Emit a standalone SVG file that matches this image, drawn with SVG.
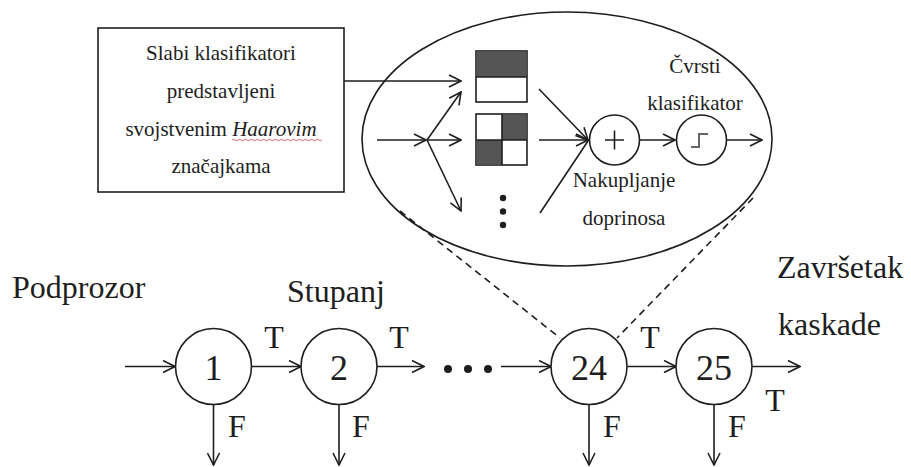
<svg xmlns="http://www.w3.org/2000/svg" width="911" height="467" viewBox="0 0 911 467" font-family="Liberation Serif, DejaVu Serif, serif">
<defs>
<style>
.ln{fill:none;stroke:#1e1e1e;stroke-width:1.6}
.arr{fill:none;stroke:#1e1e1e;stroke-width:1.6;marker-end:url(#ah)}
.dash{fill:none;stroke:#1e1e1e;stroke-width:1.6;stroke-dasharray:7 5}
.node{fill:#fff;stroke:#1e1e1e;stroke-width:1.6}
text{font-family:'Liberation Serif','DejaVu Serif',serif;fill:#1e1e1e}
.s{font-size:21px}
.b{font-size:32px}
.n{font-size:36px}
.dark{fill:#555;stroke:none}
</style>
<marker id="ah" viewBox="0 0 14 14" refX="13" refY="7" markerWidth="14" markerHeight="14" markerUnits="userSpaceOnUse" orient="auto">
<path d="M1,1 L13,7 L1,13" fill="none" stroke="#1e1e1e" stroke-width="1.6"/>
</marker>
</defs>
<rect width="911" height="467" fill="#fff"/>

<g id="zoom-ellipse">
<ellipse cx="567" cy="139" rx="205" ry="127" fill="none" stroke="#1e1e1e" stroke-width="1.6"/>
</g>

<g id="connectors">
<line class="arr" x1="344" y1="81" x2="461" y2="81"/>
<line class="arr" x1="377" y1="140" x2="426" y2="140"/>
<line class="arr" x1="427" y1="140" x2="461" y2="92"/>
<line class="arr" x1="427" y1="140" x2="461" y2="140"/>
<line class="arr" x1="427" y1="140" x2="461" y2="211"/>
<line class="arr" x1="539" y1="89" x2="588" y2="140"/>
<line class="arr" x1="539" y1="140" x2="588" y2="140"/>
<line class="ln" x1="540" y1="213" x2="588" y2="141"/>
<line class="arr" x1="640" y1="140" x2="675" y2="140"/>
<line class="arr" x1="727" y1="140" x2="762" y2="140"/>
<line class="dash" x1="400" y1="211" x2="560" y2="338"/>
<line class="dash" x1="753" y1="198" x2="617" y2="338"/>
<line class="arr" x1="125" y1="366.5" x2="175" y2="366.5"/>
<line class="arr" x1="251" y1="366.5" x2="301" y2="366.5"/>
<line class="arr" x1="377" y1="366.5" x2="424" y2="366.5"/>
<line class="arr" x1="501" y1="366.5" x2="551" y2="366.5"/>
<line class="arr" x1="627" y1="366.5" x2="676" y2="366.5"/>
<line class="arr" x1="752" y1="366.5" x2="800" y2="366.5"/>
<line class="arr" x1="213.5" y1="404.5" x2="213.5" y2="465"/>
<line class="arr" x1="339" y1="404.5" x2="339" y2="465"/>
<line class="arr" x1="589" y1="404.5" x2="589" y2="465"/>
<line class="arr" x1="714" y1="404.5" x2="714" y2="465"/>
</g>

<g id="weak-box">
<rect x="98" y="28" width="246" height="164" fill="#fff" stroke="#1e1e1e" stroke-width="1.6"/>
<text class="s" x="221" y="60" text-anchor="middle">Slabi klasifikatori</text>
<text class="s" x="221" y="98" text-anchor="middle">predstavljeni</text>
<text class="s" x="221" y="136" text-anchor="middle">svojstvenim <tspan font-style="italic">Haarovim</tspan></text>
<path d="M232,140 q1.5,-1.5 3,0 t3,0 t3,0 t3,0 t3,0 t3,0 t3,0 t3,0 t3,0 t3,0 t3,0 t3,0 t3,0 t3,0 t3,0 t3,0 t3,0 t3,0 t3,0 t3,0 t3,0 t3,0 t3,0 t3,0 t3,0 t3,0 t3,0 t3,0 t3,0 t3,0" fill="none" stroke="#d23c3c" stroke-width="1" opacity="0.8"/>
<text class="s" x="221" y="173" text-anchor="middle">značajkama</text>
</g>

<g id="haar-feature-1">
<rect x="476" y="51" width="51" height="51" fill="#fff" stroke="#1e1e1e" stroke-width="1.6"/>
<rect class="dark" x="477" y="52" width="49" height="25"/>
<line class="ln" x1="476" y1="77" x2="527" y2="77"/>
</g>

<g id="haar-feature-2">
<rect x="476" y="114" width="51" height="51" fill="#fff" stroke="#1e1e1e" stroke-width="1.6"/>
<rect class="dark" x="502" y="115" width="24" height="25"/>
<rect class="dark" x="477" y="140" width="25" height="24"/>
<line class="ln" x1="502" y1="114" x2="502" y2="165"/>
<line class="ln" x1="476" y1="140" x2="527" y2="140"/>
</g>

<g id="more-features">
<circle cx="503" cy="198" r="3.2" fill="#1e1e1e"/>
<circle cx="503" cy="211.5" r="3.2" fill="#1e1e1e"/>
<circle cx="503" cy="225" r="3.2" fill="#1e1e1e"/>
</g>

<g id="sum">
<circle class="node" cx="614.5" cy="140" r="25"/>
<path class="ln" d="M605,140 H624 M614.5,130.5 V149.5" stroke-width="1.8"/>
<text class="s" x="624" y="187" text-anchor="middle">Nakupljanje</text>
<text class="s" x="624" y="225" text-anchor="middle">doprinosa</text>
</g>

<g id="strong-classifier">
<circle class="node" cx="701.5" cy="140" r="25"/>
<path d="M691,147 H699 V134 H708" fill="none" stroke="#666" stroke-width="2"/>
<text class="s" x="695" y="73" text-anchor="middle">Čvrsti</text>
<text class="s" x="695" y="110" text-anchor="middle">klasifikator</text>
</g>

<g id="labels">
<text class="b" x="12" y="298">Podprozor</text>
<text class="b" x="287" y="302">Stupanj</text>
<text class="b" x="777" y="278">Završetak</text>
<text class="b" x="778" y="335">kaskade</text>
<circle cx="448" cy="369" r="4" fill="#1e1e1e"/>
<circle cx="468" cy="369" r="4" fill="#1e1e1e"/>
<circle cx="488" cy="369" r="4" fill="#1e1e1e"/>
</g>

<g id="stage-1">
<circle class="node" cx="213.5" cy="366.5" r="38"/>
<text class="n" x="213.5" y="380" text-anchor="middle">1</text>
<text class="b" x="274" y="348" text-anchor="middle">T</text>
<text class="b" x="228" y="437">F</text>
</g>
<g id="stage-2">
<circle class="node" cx="339" cy="366.5" r="38"/>
<text class="n" x="339" y="380" text-anchor="middle">2</text>
<text class="b" x="399" y="348" text-anchor="middle">T</text>
<text class="b" x="352" y="437">F</text>
</g>
<g id="stage-24">
<circle class="node" cx="589" cy="366.5" r="38"/>
<text class="n" x="589" y="380" text-anchor="middle">24</text>
<text class="b" x="650" y="348" text-anchor="middle">T</text>
<text class="b" x="603" y="437">F</text>
</g>
<g id="stage-25">
<circle class="node" cx="714" cy="366.5" r="38"/>
<text class="n" x="714" y="380" text-anchor="middle">25</text>
<text class="b" x="775" y="411" text-anchor="middle">T</text>
<text class="b" x="728" y="437">F</text>
</g>
</svg>
